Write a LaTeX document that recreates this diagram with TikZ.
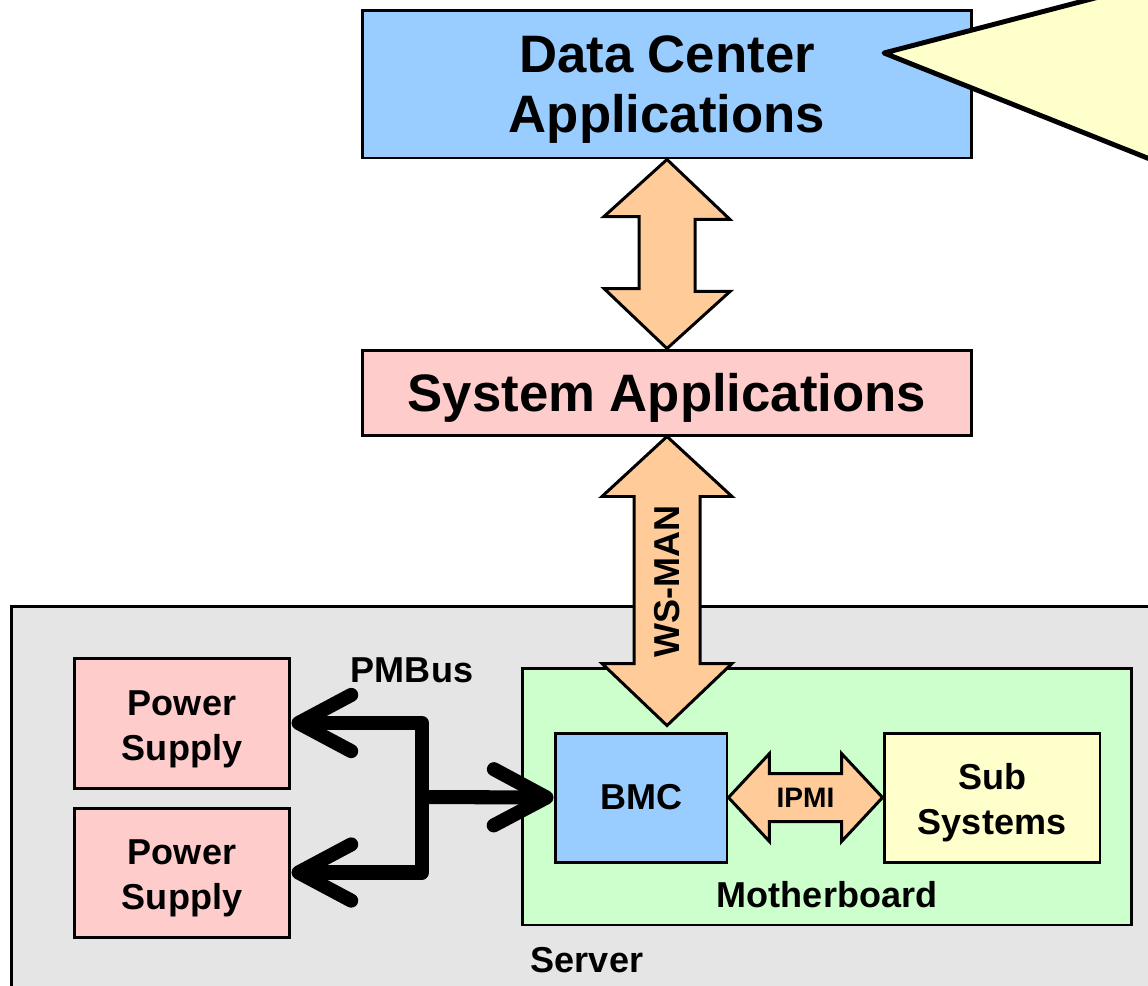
\documentclass[tikz,border=0pt]{standalone}
\usepackage{fontspec}
\setmainfont{Liberation Sans}
\usetikzlibrary{positioning, arrows.meta, calc}

\definecolor{appblue}{HTML}{99CCFF}
\definecolor{apppink}{HTML}{FFCCCC}
\definecolor{peach}{HTML}{FFCC99}
\definecolor{noteyellow}{HTML}{FFFFCC}
\definecolor{boardgreen}{HTML}{CCFFCC}
\definecolor{servergray}{HTML}{E5E5E5}

\begin{document}
\begin{tikzpicture}[
    x=0.02cm, y=-0.02cm,
    every node/.style={align=center, font=\bfseries\fontsize{20.5}{25.6}\selectfont},
    box/.style={rectangle, draw, line width=1.7pt, inner sep=0pt},
    bigtxt/.style={font=\bfseries\fontsize{30}{34}\selectfont},
    smalltxt/.style={font=\bfseries\fontsize{16}{19}\selectfont},
    fatarrow/.style={draw, fill=peach, line width=1.7pt, line join=miter},
    busarrow/.style={-{Straight Barb[length=30pt, width=32pt, round]}, line width=8pt, line join=round},
    callout/.style={draw, fill=noteyellow, line width=2.8pt, line join=round}
]
\clip (0,0) rectangle (1148,985);

% Server and motherboard
\node[box, fill=servergray, anchor=north west, minimum width=23.5cm, minimum height=8cm] (server) at (10,605) {};
\node (srvlabel) at (587,960) {Server};
\node[box, fill=boardgreen, minimum width=12.2cm, minimum height=5.14cm] (mb) at (827,796.5) {};
\node[above=0.24cm of mb.south] (mblabel) {Motherboard};

% Boxes (the zero width rules push the text down a little)
\node[box, fill=appblue, bigtxt, minimum width=12.2cm, minimum height=2.96cm] (dca) at (667,84) {\rule{0pt}{27.5pt}Data Center\\Applications};
\node[box, fill=apppink, bigtxt, minimum width=12.2cm, minimum height=1.7cm] (sysapp) at (667,392.5) {\rule{0pt}{27.5pt}System Applications};
\node[box, fill=appblue, minimum width=3.44cm, minimum height=2.58cm] (bmc) at (641,797.5) {BMC};
\node[box, fill=noteyellow, minimum width=4.32cm, minimum height=2.58cm] (sub) at (992,797.5) {\rule{0pt}{20.5pt}Sub\\Systems};
\node[box, fill=apppink, minimum width=4.32cm, minimum height=2.6cm] (ps1) at (182,723) {\rule{0pt}{21pt}Power\\Supply};
\node[box, fill=apppink, minimum width=4.32cm, minimum height=2.58cm] (ps2) at (182,872.5) {\rule{0pt}{21pt}Power\\Supply};

% Callout
\draw[callout] (1164,-20) -- (884,53) -- (1200,179) -- (1200,-20) -- cycle;

% Data center <-> system applications
\draw[fatarrow] (dca.south) -- ++(63,60) -- ++(-35,0) -- ++(0,72) -- ++(35,0)
    -- (sysapp.north) -- ++(-63,-60) -- ++(35,0) -- ++(0,-72) -- ++(-35,0) -- cycle;

% WS-MAN
\coordinate (wsend) at ($(bmc.north -| sysapp.south)+(0,-6)$);
\draw[fatarrow] (sysapp.south) -- ++(65,60) -- ++(-32,0) -- ($(wsend)+(33,-62)$) -- ++(32,0)
    -- (wsend) -- ++(-65,-62) -- ++(32,0) -- ($(sysapp.south)+(-33,60)$) -- ++(-32,0) -- cycle;
\node[rotate=90] (wslabel) at ($(sysapp.south)!0.5!(wsend)$) {WS-MAN};

% IPMI
\draw[fatarrow] (bmc.east) -- ++(41,-44) -- ++(0,20) -- ($(sub.west)+(-41,-24)$) -- ++(0,-20)
    -- (sub.west) -- ++(-41,44) -- ++(0,-20) -- ($(bmc.east)+(41,24)$) -- ++(0,20) -- cycle;
\node[smalltxt] (ipmilabel) at ($(bmc.east)!0.5!(sub.west)$) {IPMI};

% PMBus
\coordinate (jn) at (422,797);
\draw[busarrow] (jn) -- (bmc.west);
\draw[busarrow] (jn) |- (ps1.east);
\draw[busarrow] (jn) |- (ps2.east);
\node (pmlabel) at (412,670) {PMBus};

\end{tikzpicture}
\end{document}
